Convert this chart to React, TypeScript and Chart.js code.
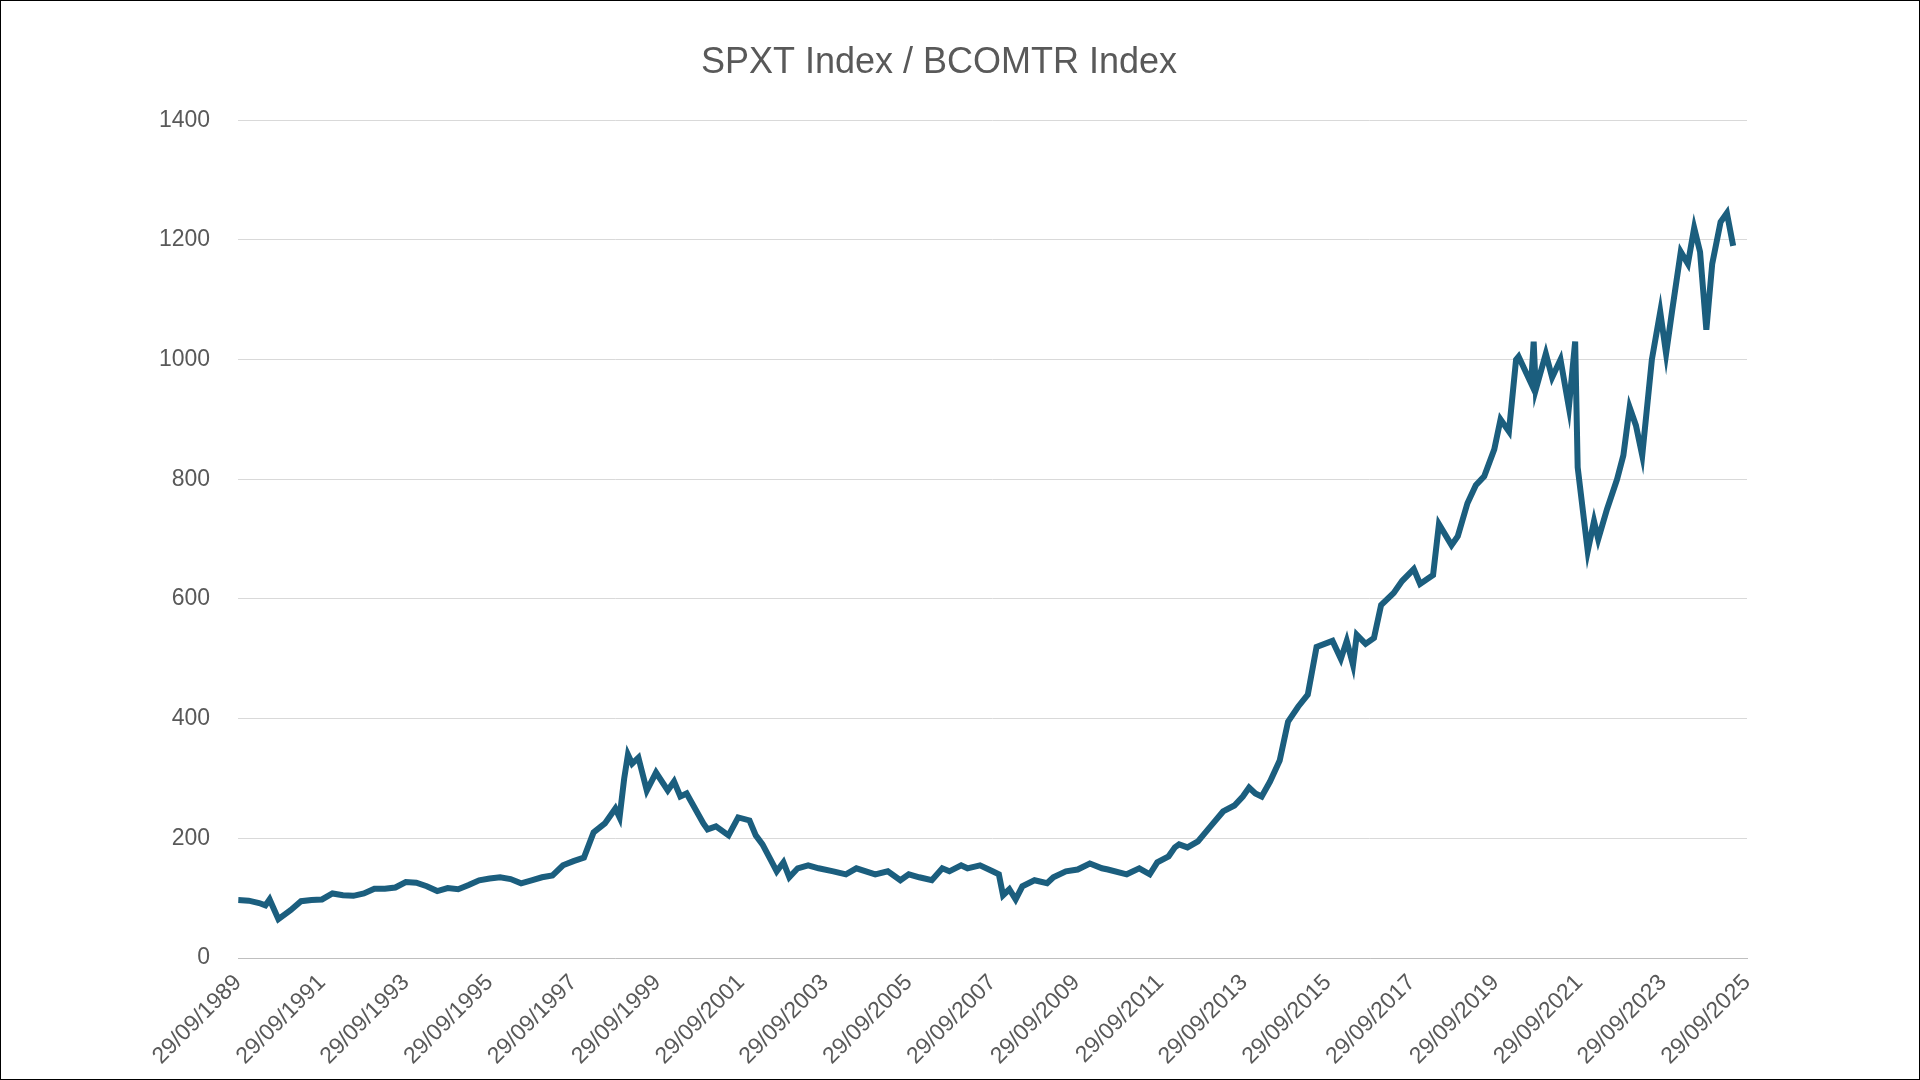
import React, { useEffect, useRef } from "react";
import { Chart, registerables } from "chart.js";
Chart.register(...registerables);

const title = "SPXT Index / BCOMTR Index";
const years = [1989.75,1990.0,1990.25,1990.4,1990.5,1990.71,1991.0,1991.25,1991.5,1991.75,1992.0,1992.25,1992.5,1992.75,1993.0,1993.25,1993.5,1993.75,1994.0,1994.25,1994.5,1994.75,1995.0,1995.25,1995.5,1995.75,1996.0,1996.25,1996.5,1996.75,1997.0,1997.25,1997.5,1997.75,1998.0,1998.23,1998.5,1998.75,1998.85,1998.96,1999.05,1999.15,1999.3,1999.5,1999.72,2000.0,2000.15,2000.3,2000.45,2000.57,2000.85,2000.95,2001.15,2001.45,2001.68,2001.95,2002.1,2002.26,2002.45,2002.6,2002.76,2002.9,2003.1,2003.35,2003.6,2003.95,2004.25,2004.5,2004.95,2005.25,2005.55,2005.75,2006.0,2006.3,2006.55,2006.72,2007.0,2007.15,2007.45,2007.75,2007.9,2008.0,2008.15,2008.3,2008.46,2008.75,2009.05,2009.2,2009.5,2009.78,2010.07,2010.36,2010.5,2010.95,2011.25,2011.5,2011.68,2011.95,2012.1,2012.2,2012.4,2012.65,2012.95,2013.25,2013.52,2013.72,2013.87,2014.02,2014.17,2014.37,2014.6,2014.8,2015.04,2015.27,2015.48,2015.86,2016.06,2016.2,2016.35,2016.44,2016.65,2016.85,2017.02,2017.32,2017.52,2017.8,2017.95,2018.26,2018.4,2018.7,2018.85,2019.08,2019.28,2019.48,2019.72,2019.87,2020.07,2020.24,2020.3,2020.6,2020.66,2020.71,2020.95,2021.1,2021.3,2021.5,2021.65,2021.71,2021.95,2022.1,2022.2,2022.41,2022.65,2022.8,2022.95,2023.1,2023.25,2023.48,2023.68,2023.82,2023.96,2024.17,2024.34,2024.49,2024.63,2024.78,2024.92,2025.12,2025.27,2025.42,2025.62,2025.75,2025.84];
const ratio = [97,96,92,88,98,65,80,95,97,98,108,105,104,108,116,116,118,127,126,120,112,117,115,122,130,133,135,132,125,130,135,138,155,162,168,210,225,250,235,300,340,325,335,280,310,280,295,270,275,260,225,215,220,205,235,230,205,190,165,145,160,135,150,155,150,145,140,150,140,145,130,140,135,130,150,145,155,150,155,145,140,105,115,98,120,130,125,135,145,148,158,150,148,140,150,140,160,170,185,190,185,195,220,245,255,270,285,275,270,295,330,395,420,440,520,530,500,530,490,540,525,535,590,610,630,650,625,640,725,690,705,760,790,805,850,900,880,1000,1005,960,1030,950,1010,970,1000,920,1030,820,680,730,700,750,800,840,920,890,840,1000,1080,1010,1080,1180,1160,1220,1180,1050,1160,1230,1245,1190];

export default function App() {
  const ref = useRef<HTMLCanvasElement>(null);
  useEffect(() => {
    const grey = "#595959";
    const chart = new Chart(ref.current!, {
      type: "line",
      data: {
        datasets: [{
          data: years.map((x, i) => ({ x, y: ratio[i] })),
          borderColor: "#1b5e7e", borderWidth: 6, pointRadius: 0, tension: 0,
        }],
      },
      options: {
        animation: false, responsive: false, maintainAspectRatio: false,
        layout: { padding: { left: 130, right: 172, top: 20, bottom: 6 } },
        plugins: {
          legend: { display: false },
          tooltip: { enabled: false },
          title: { display: true, text: title, color: grey, font: { family: "Liberation Sans", size: 36, weight: "normal" }, padding: { top: 20, bottom: 36 } },
        },
        scales: {
          x: {
            type: "linear", min: 1989.75, max: 2025.75,
            afterBuildTicks: (s: any) => { const t = []; for (let y = 1989; y <= 2025; y += 2) t.push({ value: y + 0.75 }); s.ticks = t; },
            ticks: { color: grey, font: { family: "Liberation Sans", size: 23 }, maxRotation: 45, minRotation: 45, autoSkip: false,
              callback: (v: any) => "29/09/" + Math.round(v - 0.75) },
            grid: { display: false, drawTicks: true, tickLength: 8, color: "#bfbfbf" },
            border: { color: "#bfbfbf" },
          },
          y: {
            min: 0, max: 1400,
            ticks: { stepSize: 200, color: grey, font: { family: "Liberation Sans", size: 23 }, padding: 28, callback: (v: any) => String(v) },
            grid: { color: "#d9d9d9", drawTicks: false },
            border: { display: false },
          },
        },
      },
    });
    return () => chart.destroy();
  }, []);
  return (
    <div style={{ position: "fixed", left: 0, top: 0, width: 1920, height: 1080, boxSizing: "border-box", border: "1px solid #000", background: "#fff" }}>
      <canvas ref={ref} width={1918} height={1078} style={{ width: 1918, height: 1078 }} />
    </div>
  );
}
